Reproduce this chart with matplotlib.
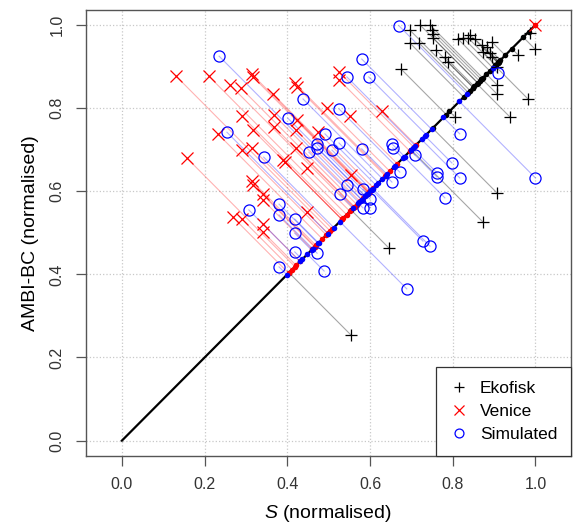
import numpy as np
import matplotlib
matplotlib.use("Agg")
import matplotlib.pyplot as plt

plt.rcParams['font.family'] = ['Liberation Sans', 'DejaVu Sans']
plt.rcParams['mathtext.fontset'] = 'custom'
plt.rcParams['mathtext.rm'] = 'Liberation Sans'
plt.rcParams['mathtext.it'] = 'Liberation Sans:italic'

# Ekofisk sites (S normalised, AMBI-BC normalised)
ekofisk_s = [0.696, 0.721, 0.745, 0.750, 0.752, 0.752, 0.696, 0.718, 0.759, 0.781,
             0.788, 0.813, 0.825, 0.837, 0.854, 0.842, 0.871, 0.883, 0.895, 0.873,
             0.890, 0.895, 0.907, 0.958, 0.999, 0.987, 0.907, 0.907, 0.982, 0.938,
             0.805, 0.907, 0.873, 0.646, 0.554, 0.675]
ekofisk_ambi = [0.988, 1.000, 1.000, 0.988, 0.978, 0.969, 0.957, 0.957, 0.940, 0.923,
                0.911, 0.966, 0.969, 0.969, 0.966, 0.976, 0.952, 0.947, 0.959, 0.935,
                0.933, 0.923, 0.899, 0.928, 0.942, 0.981, 0.856, 0.834, 0.822, 0.779,
                0.779, 0.596, 0.526, 0.463, 0.254, 0.894]

# Venice sites
venice_s = [0.131, 0.210, 0.314, 0.317, 0.261, 0.288, 0.365, 0.418, 0.423, 0.496,
            0.290, 0.368, 0.317, 0.232, 0.368, 0.421, 0.290, 0.314, 0.421, 0.394,
            0.447, 0.157, 0.314, 0.317, 0.341, 0.341, 0.268, 0.290, 0.341, 0.341,
            0.447, 0.525, 0.525, 0.551, 0.629, 0.423, 0.474, 0.389, 0.554, 0.999]
venice_ambi = [0.877, 0.877, 0.882, 0.875, 0.856, 0.848, 0.834, 0.860, 0.851, 0.800,
               0.781, 0.783, 0.747, 0.738, 0.755, 0.747, 0.699, 0.704, 0.704, 0.670,
               0.656, 0.680, 0.625, 0.615, 0.579, 0.593, 0.538, 0.533, 0.521, 0.502,
               0.550, 0.887, 0.868, 0.781, 0.793, 0.771, 0.742, 0.675, 0.639, 1.000]

# Simulated sites
sim_s = [0.235, 0.438, 0.401, 0.254, 0.491, 0.472, 0.472, 0.452, 0.343, 0.307,
         0.380, 0.380, 0.418, 0.418, 0.418, 0.380, 0.472, 0.489, 0.527, 0.544,
         0.583, 0.600, 0.583, 0.600, 0.653, 0.672, 0.709, 0.762, 0.762, 0.781,
         0.728, 0.745, 0.689, 0.580, 0.544, 0.597, 0.525, 0.508, 0.525, 0.580,
         0.653, 0.655, 0.670, 0.817, 0.909, 0.798, 0.817, 1.000]
sim_ambi = [0.925, 0.822, 0.776, 0.742, 0.738, 0.714, 0.704, 0.694, 0.682, 0.555,
            0.569, 0.543, 0.533, 0.499, 0.454, 0.418, 0.451, 0.408, 0.593, 0.615,
            0.605, 0.581, 0.560, 0.560, 0.622, 0.646, 0.687, 0.644, 0.634, 0.584,
            0.480, 0.468, 0.365, 0.918, 0.875, 0.875, 0.798, 0.699, 0.716, 0.702,
            0.714, 0.704, 0.998, 0.738, 0.884, 0.668, 0.632, 0.632]

groups = [
    ("Ekofisk", ekofisk_s, ekofisk_ambi, 'black', '+'),
    ("Venice", venice_s, venice_ambi, 'red', 'x'),
    ("Simulated", sim_s, sim_ambi, 'blue', 'o'),
]

fig = plt.figure(figsize=(5.74, 5.31), dpi=100)
ax = fig.add_axes([85.5 / 574, 1 - 456 / 531, (571 - 85.5) / 574, (456 - 10) / 531])

ticks = [0.0, 0.2, 0.4, 0.6, 0.8, 1.0]
for t in ticks:
    ax.axvline(t, color='#c8c8c8', linestyle=':', linewidth=0.9, zorder=0)
    ax.axhline(t, color='#c8c8c8', linestyle=':', linewidth=0.9, zorder=0)

# connectors from each site to its projection on the 1:1 line
alphas = {'black': 0.35, 'red': 0.3, 'blue': 0.3}
for name, s, a, col, mk in groups:
    s = np.array(s)
    a = np.array(a)
    m = (s + a) / 2
    for i in range(len(s)):
        ax.plot([s[i], m[i]], [a[i], m[i]], color=col, alpha=alphas[col],
                linewidth=0.8, zorder=1)

ax.plot([0, 1], [0, 1], color='black', linewidth=1.6, zorder=2)

for name, s, a, col, mk in groups:
    m = (np.array(s) + np.array(a)) / 2
    ax.plot(m, m, linestyle='none', marker='o', markersize=4, color=col,
            markeredgewidth=0, zorder=3)

handles = []
for name, s, a, col, mk in groups:
    if mk == 'o':
        h, = ax.plot(s, a, linestyle='none', marker='o', markersize=8,
                     markerfacecolor='none', markeredgecolor=col,
                     markeredgewidth=0.9, label=name, zorder=4)
    else:
        h, = ax.plot(s, a, linestyle='none', marker=mk, markersize=8.5,
                     color=col, markeredgewidth=0.9, label=name, zorder=4)
    handles.append(h)

ax.set_xlim(-0.088, 1.086)
ax.set_ylim(-0.037, 1.036)
ax.set_xticks(ticks)
ax.set_yticks(ticks)
ax.set_xticklabels([f"{t:.1f}" for t in ticks], fontsize=11.5, color='#333333')
ax.set_yticklabels([f"{t:.1f}" for t in ticks], fontsize=11.5, color='#333333',
                   rotation=90, va='center')
ax.tick_params(direction='out', length=7, width=0.9, color='#555555', pad=8)
for sp in ax.spines.values():
    sp.set_color('#555555')
    sp.set_linewidth(1.0)

ax.set_xlabel("$S$ (normalised)", fontsize=14, labelpad=8)
ax.set_ylabel("AMBI-BC (normalised)", fontsize=14, labelpad=8)

leg = ax.legend(handles=handles, loc='lower right', borderaxespad=0,
                fontsize=12.5, fancybox=False, framealpha=1, edgecolor='#333333',
                handlelength=1.0, handletextpad=0.7, labelspacing=0.45,
                borderpad=0.8, markerscale=0.8)
leg.get_frame().set_linewidth(0.9)

plt.savefig("out.png", dpi=100)
